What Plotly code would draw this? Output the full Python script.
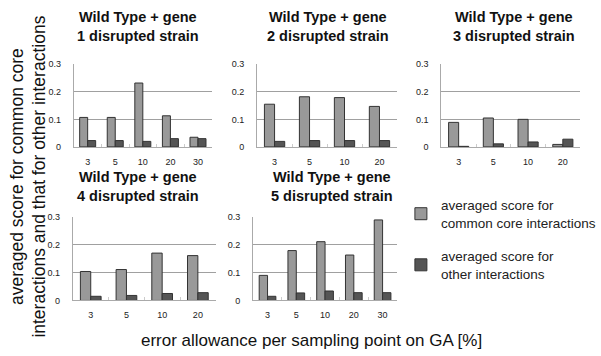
import plotly.graph_objects as go

titles = ["Wild Type + gene<br>1 disrupted strain",
          "Wild Type + gene<br>2 disrupted strain",
          "Wild Type + gene<br>3 disrupted strain",
          "Wild Type + gene<br>4 disrupted strain",
          "Wild Type + gene<br>5 disrupted strain"]

cats1 = ["3", "5", "10", "20", "30"]
cats2 = ["3", "5", "10", "20"]
cats3 = ["3", "5", "10", "20"]
cats4 = ["3", "5", "10", "20"]
cats5 = ["3", "5", "10", "20", "30"]

core1 = [0.107, 0.107, 0.232, 0.113, 0.035]
other1 = [0.023, 0.023, 0.020, 0.030, 0.030]
core2 = [0.155, 0.182, 0.179, 0.147]
other2 = [0.020, 0.023, 0.023, 0.023]
core3 = [0.089, 0.105, 0.100, 0.009]
other3 = [0.002, 0.011, 0.018, 0.028]
core4 = [0.104, 0.111, 0.170, 0.161]
other4 = [0.015, 0.018, 0.025, 0.028]
core5 = [0.090, 0.179, 0.211, 0.163, 0.289]
other5 = [0.015, 0.027, 0.034, 0.028, 0.028]

y_ticks = [0, 0.1, 0.2, 0.3]
y_ticklabels = ["0", "0.1", "0.2", "0.3"]

legend_core = "averaged score for<br>common core interactions"
legend_other = "averaged score for<br>other interactions"

W, H = 601, 356
# pixel boxes: (x0, x1, ytop, ybottom)
boxes = [(75, 215, 61, 146), (261, 403, 61, 146), (448, 589, 61, 146),
         (74, 219, 218, 304), (257, 403, 218, 304)]
title_centers = [(140, 22), (333, 22), (522, 22), (140, 187), (337, 187)]

data = [(cats1, core1, other1), (cats2, core2, other2), (cats3, core3, other3),
        (cats4, core4, other4), (cats5, core5, other5)]

LIGHT = "#999999"
DARK = "#555555"
EDGE = "#333333"
TICKFONT = dict(family="Liberation Sans Narrow, Liberation Sans, Arial", size=9, color="#222222")

fig = go.Figure()
for i, (cats, core, other) in enumerate(data):
    n = i + 1
    xa = "x" if n == 1 else f"x{n}"
    ya = "y" if n == 1 else f"y{n}"
    fig.add_trace(go.Bar(x=cats, y=core, xaxis=xa, yaxis=ya, name=legend_core,
                         marker=dict(color=LIGHT, line=dict(color=EDGE, width=1)),
                         showlegend=(n == 1), legendgroup="core"))
    fig.add_trace(go.Bar(x=cats, y=other, xaxis=xa, yaxis=ya, name=legend_other,
                         marker=dict(color=DARK, line=dict(color=EDGE, width=1)),
                         showlegend=(n == 1), legendgroup="other"))
    x0, x1, yt, yb = boxes[i]
    xd = [x0 / W, x1 / W]
    yd = [1 - yb / H, 1 - yt / H]
    key = "" if n == 1 else str(n)
    fig.layout["xaxis" + key] = dict(
        domain=xd, anchor=ya, type="category", showgrid=False,
        showline=True, linecolor="#aaaaaa", linewidth=1,
        ticks="inside", ticklen=3, tickcolor="#cccccc", tickson="boundaries",
        ticklabelstandoff=6, tickfont=TICKFONT, fixedrange=True)
    fig.layout["yaxis" + key] = dict(
        domain=yd, anchor=xa, range=[0, 0.3], tickvals=y_ticks, ticktext=y_ticklabels,
        showgrid=True, gridcolor="#a0a0a0", gridwidth=1, zeroline=False,
        showline=True, linecolor="#aaaaaa", linewidth=1, ticks="",
        ticklabelstandoff=10, tickfont=TICKFONT, fixedrange=True)
    cx, cy = title_centers[i]
    fig.add_annotation(text="<b>" + titles[i] + "</b>", xref="paper", yref="paper",
                       x=cx / W, y=1 - cy / H, xanchor="center", yanchor="middle",
                       showarrow=False, borderpad=0,
                       font=dict(family="Liberation Sans, Arial", size=14.5, color="#111111"))

fig.add_annotation(text="averaged score for common core<br>interactions and that for other interactions",
                   xref="paper", yref="paper", x=28 / W, y=1 - 177 / H, textangle=-90,
                   xanchor="center", yanchor="middle", showarrow=False,
                   font=dict(family="Liberation Sans, Arial", size=17.5, color="#111111"))
fig.add_annotation(text="error allowance per sampling point on GA [%]",
                   xref="paper", yref="paper", x=316 / W, y=1 - 345 / H,
                   xanchor="center", yanchor="middle", showarrow=False,
                   font=dict(family="Liberation Sans, Arial", size=17, color="#111111"))

fig.update_layout(
    width=W, height=H, margin=dict(l=0, r=0, t=0, b=0),
    paper_bgcolor="white", plot_bgcolor="white",
    barmode="group", bargap=0.42, bargroupgap=0.0,
    showlegend=True,
    legend=dict(x=407 / W, y=1 - 190 / H, xanchor="left", yanchor="top",
                font=dict(family="Liberation Sans, Arial", size=13.5, color="#222222"),
                tracegroupgap=13, itemwidth=30, bgcolor="rgba(0,0,0,0)"),
)

fig.write_html("out.html")
